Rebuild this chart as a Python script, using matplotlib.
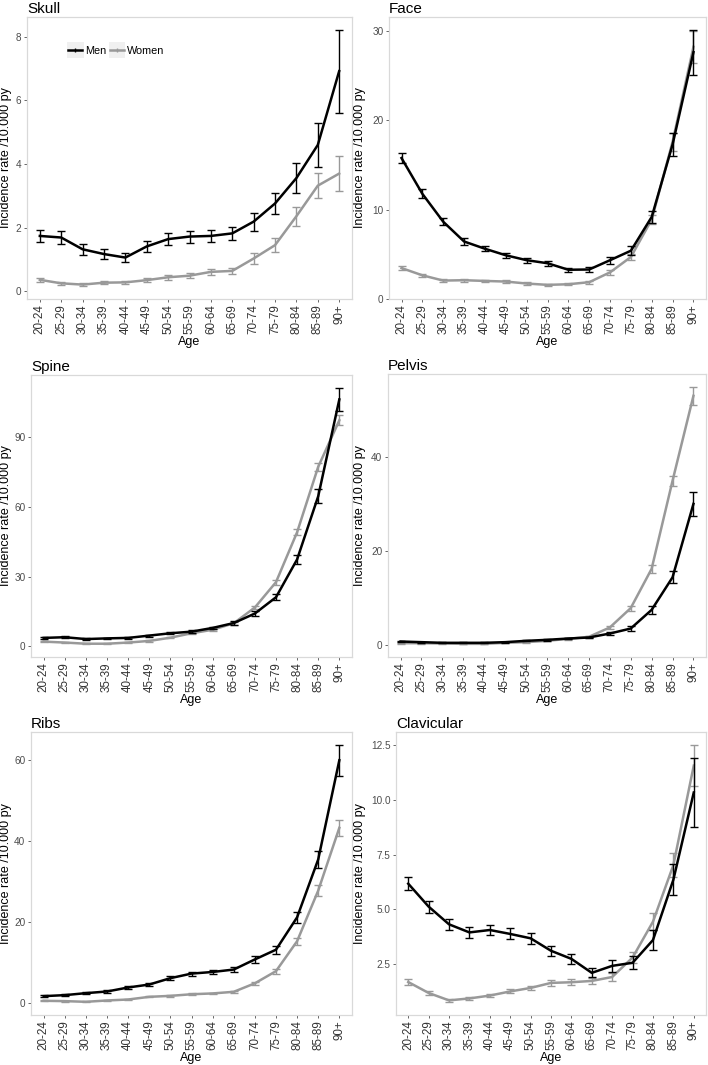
import numpy as np
import matplotlib; matplotlib.use("Agg")
import matplotlib.pyplot as plt
from matplotlib.lines import Line2D
from matplotlib.patches import Rectangle
from matplotlib.legend_handler import HandlerLine2D

plt.rcParams['font.family'] = ['Liberation Sans', 'DejaVu Sans']

ages = ["20-24", "25-29", "30-34", "35-39", "40-44", "45-49", "50-54", "55-59",
        "60-64", "65-69", "70-74", "75-79", "80-84", "85-89", "90+"]

skull_men = [1.74, 1.69, 1.32, 1.17, 1.06, 1.41, 1.64, 1.72, 1.74, 1.82, 2.19, 2.76, 3.56, 4.60, 6.92]
skull_men_err = [0.2, 0.19, 0.17, 0.15, 0.14, 0.16, 0.18, 0.19, 0.2, 0.2, 0.28, 0.34, 0.46, 0.69, 1.3]
skull_women = [0.36, 0.25, 0.21, 0.27, 0.28, 0.35, 0.44, 0.49, 0.61, 0.64, 1.03, 1.45, 2.36, 3.32, 3.70]
skull_women_err = [0.06, 0.05, 0.05, 0.05, 0.05, 0.06, 0.07, 0.07, 0.09, 0.1, 0.16, 0.22, 0.3, 0.4, 0.55]

face_men = [15.76, 11.76, 8.64, 6.43, 5.62, 4.89, 4.34, 4.0, 3.27, 3.3, 4.34, 5.4, 9.19, 17.3, 27.6]
face_men_err = [0.6, 0.5, 0.4, 0.35, 0.3, 0.3, 0.3, 0.3, 0.25, 0.25, 0.4, 0.5, 0.7, 1.3, 2.5]
face_women = [3.46, 2.65, 2.06, 2.1, 2.02, 1.95, 1.73, 1.58, 1.65, 1.88, 2.98, 4.7, 8.9, 17.6, 28.2]
face_women_err = [0.25, 0.2, 0.15, 0.15, 0.15, 0.15, 0.12, 0.12, 0.12, 0.15, 0.25, 0.35, 0.5, 1.0, 1.8]

spine_men = [3.6, 3.9, 3.1, 3.4, 3.6, 4.6, 5.6, 6.3, 7.9, 10.0, 14.1, 21.1, 37.4, 64.6, 106.3]
spine_men_err = [0.4, 0.4, 0.35, 0.35, 0.35, 0.4, 0.45, 0.5, 0.6, 0.7, 1.0, 1.3, 2.0, 3.0, 5.0]
spine_women = [2.0, 1.6, 1.1, 1.1, 1.6, 2.3, 3.7, 5.6, 7.1, 9.9, 16.7, 27.6, 49.1, 77.3, 97.3]
spine_women_err = [0.3, 0.25, 0.2, 0.2, 0.25, 0.3, 0.35, 0.4, 0.5, 0.6, 0.8, 1.0, 1.3, 1.8, 2.2]

pelvis_men = [0.78, 0.64, 0.5, 0.5, 0.5, 0.64, 0.92, 1.13, 1.41, 1.63, 2.47, 3.53, 7.49, 14.4, 30.0]
pelvis_men_err = [0.12, 0.1, 0.08, 0.08, 0.08, 0.1, 0.12, 0.14, 0.17, 0.2, 0.3, 0.45, 0.8, 1.3, 2.6]
pelvis_women = [0.42, 0.42, 0.35, 0.28, 0.28, 0.5, 0.64, 0.92, 1.34, 1.77, 3.75, 7.86, 16.2, 34.9, 52.95]
pelvis_women_err = [0.08, 0.08, 0.07, 0.06, 0.06, 0.08, 0.1, 0.12, 0.15, 0.2, 0.3, 0.5, 0.8, 1.1, 1.9]

ribs_men = [1.73, 1.98, 2.47, 2.88, 3.87, 4.6, 6.17, 7.3, 7.7, 8.3, 10.8, 13.2, 21.2, 35.5, 60.0]
ribs_men_err = [0.2, 0.2, 0.25, 0.25, 0.3, 0.35, 0.45, 0.5, 0.55, 0.6, 0.8, 1.0, 1.4, 2.2, 3.8]
ribs_women = [0.58, 0.5, 0.33, 0.66, 0.9, 1.56, 1.8, 2.2, 2.4, 2.8, 4.9, 7.9, 15.3, 27.8, 43.3]
ribs_women_err = [0.1, 0.1, 0.08, 0.1, 0.12, 0.15, 0.18, 0.2, 0.2, 0.25, 0.4, 0.6, 0.9, 1.4, 2.0]

clav_men = [6.17, 5.12, 4.31, 3.94, 4.05, 3.87, 3.67, 3.1, 2.73, 2.09, 2.41, 2.55, 3.59, 6.35, 10.34]
clav_men_err = [0.3, 0.27, 0.25, 0.25, 0.25, 0.25, 0.25, 0.23, 0.22, 0.2, 0.27, 0.3, 0.45, 0.7, 1.6]
clav_women = [1.67, 1.17, 0.83, 0.92, 1.05, 1.24, 1.4, 1.63, 1.66, 1.72, 1.9, 2.79, 4.43, 7.02, 11.57]
clav_women_err = [0.15, 0.1, 0.08, 0.08, 0.08, 0.09, 0.1, 0.12, 0.13, 0.14, 0.18, 0.27, 0.4, 0.55, 0.95]

panels = [
    ("Skull", skull_men, skull_men_err, skull_women, skull_women_err, [0, 2, 4, 6, 8], None),
    ("Face", face_men, face_men_err, face_women, face_women_err, [0, 10, 20, 30], None),
    ("Spine", spine_men, spine_men_err, spine_women, spine_women_err, [0, 30, 60, 90], None),
    ("Pelvis", pelvis_men, pelvis_men_err, pelvis_women, pelvis_women_err, [0, 20, 40], None),
    ("Ribs", ribs_men, ribs_men_err, ribs_women, ribs_women_err, [0, 20, 40, 60], None),
    ("Clavicular", clav_men, clav_men_err, clav_women, clav_women_err, [2.5, 5.0, 7.5, 10.0, 12.5], "%.1f"),
]

# panel boxes in pixels: left, top, right, bottom
boxes = [(27, 17, 352, 299), (389, 17, 706, 299),
         (31, 375, 352, 657), (388, 374, 706, 657),
         (31, 732, 352, 1015), (396, 732, 706, 1015)]
ylab_x = [12, 366, 12, 366, 12, 366]   # y-label baseline side, page pixels

class KeyWithBg(HandlerLine2D):
    # ggplot-style legend key: light grey square behind the line
    def create_artists(self, legend, orig, xd, yd, width, height, fontsize, trans):
        bg = Rectangle((xd - 1, -yd - 3), width + 2, height + 6, fc="#f0f0f0",
                       ec="none", transform=trans)
        return [bg] + super().create_artists(legend, orig, xd, yd, width, height,
                                             fontsize, trans)

W, H = 708, 1065
fig = plt.figure(figsize=(W / 100, H / 100), dpi=100)
MEN, WOMEN = "#000000", "#999999"
x = np.arange(len(ages))

for (name, m, me, w, we, ticks, fmt), (l, t, r, b), lx in zip(panels, boxes, ylab_x):
    ax = fig.add_axes([l / W, 1 - b / H, (r - l) / W, (b - t) / H])
    m, me, w, we = map(np.array, (m, me, w, we))
    for vals, err, col in ((w, we, WOMEN), (m, me, MEN)):
        ax.errorbar(x, vals, yerr=err, color=col, lw=1.8, elinewidth=1.0,
                    capsize=2.6, capthick=1.0, zorder=3 if col == MEN else 2)
    lo = min((m - me).min(), (w - we).min())
    hi = max((m + me).max(), (w + we).max())
    pad = (hi - lo) * 0.05
    ax.set_ylim(lo - pad, hi + pad)
    ax.set_xlim(-0.6, len(ages) - 0.4)
    ax.set_yticks(ticks)
    if fmt:
        ax.set_yticklabels([fmt % v for v in ticks])
    ax.set_xticks(x)
    ax.set_xticklabels(ages, rotation=90)
    ax.tick_params(axis="both", colors="#4d4d4d", labelcolor="#4d4d4d",
                   labelsize=7.2, length=2.5, width=0.6, pad=1.5)
    ax.tick_params(axis="x", labelsize=8.4, labelcolor="#333333")
    for s in ax.spines.values():
        s.set_color("#d9d9d9"); s.set_linewidth(0.9)
    ax.set_xlabel("Age", fontsize=9, labelpad=1)
    ax.set_ylabel("Incidence rate /10.000 py", fontsize=9)
    ax.yaxis.set_label_coords((lx - l) / (r - l), 0.5)
    ax.set_title(name, loc="left", fontsize=11, pad=3)
    if name == "Skull":
        handles = [Line2D([0], [0], color=MEN, lw=1.8, marker="|", ms=3),
                   Line2D([0], [0], color=WOMEN, lw=1.8, marker="|", ms=3)]
        ax.legend(handles, ["Men", "Women"], loc="center left",
                  bbox_to_anchor=(0.11, 0.88), ncol=2, frameon=False,
                  fontsize=7.8, handlelength=1.3, handletextpad=0.3,
                  columnspacing=0.3, borderpad=0,
                  handler_map={Line2D: KeyWithBg()})

fig.savefig("out.png", dpi=100)
print("wrote out.png")
